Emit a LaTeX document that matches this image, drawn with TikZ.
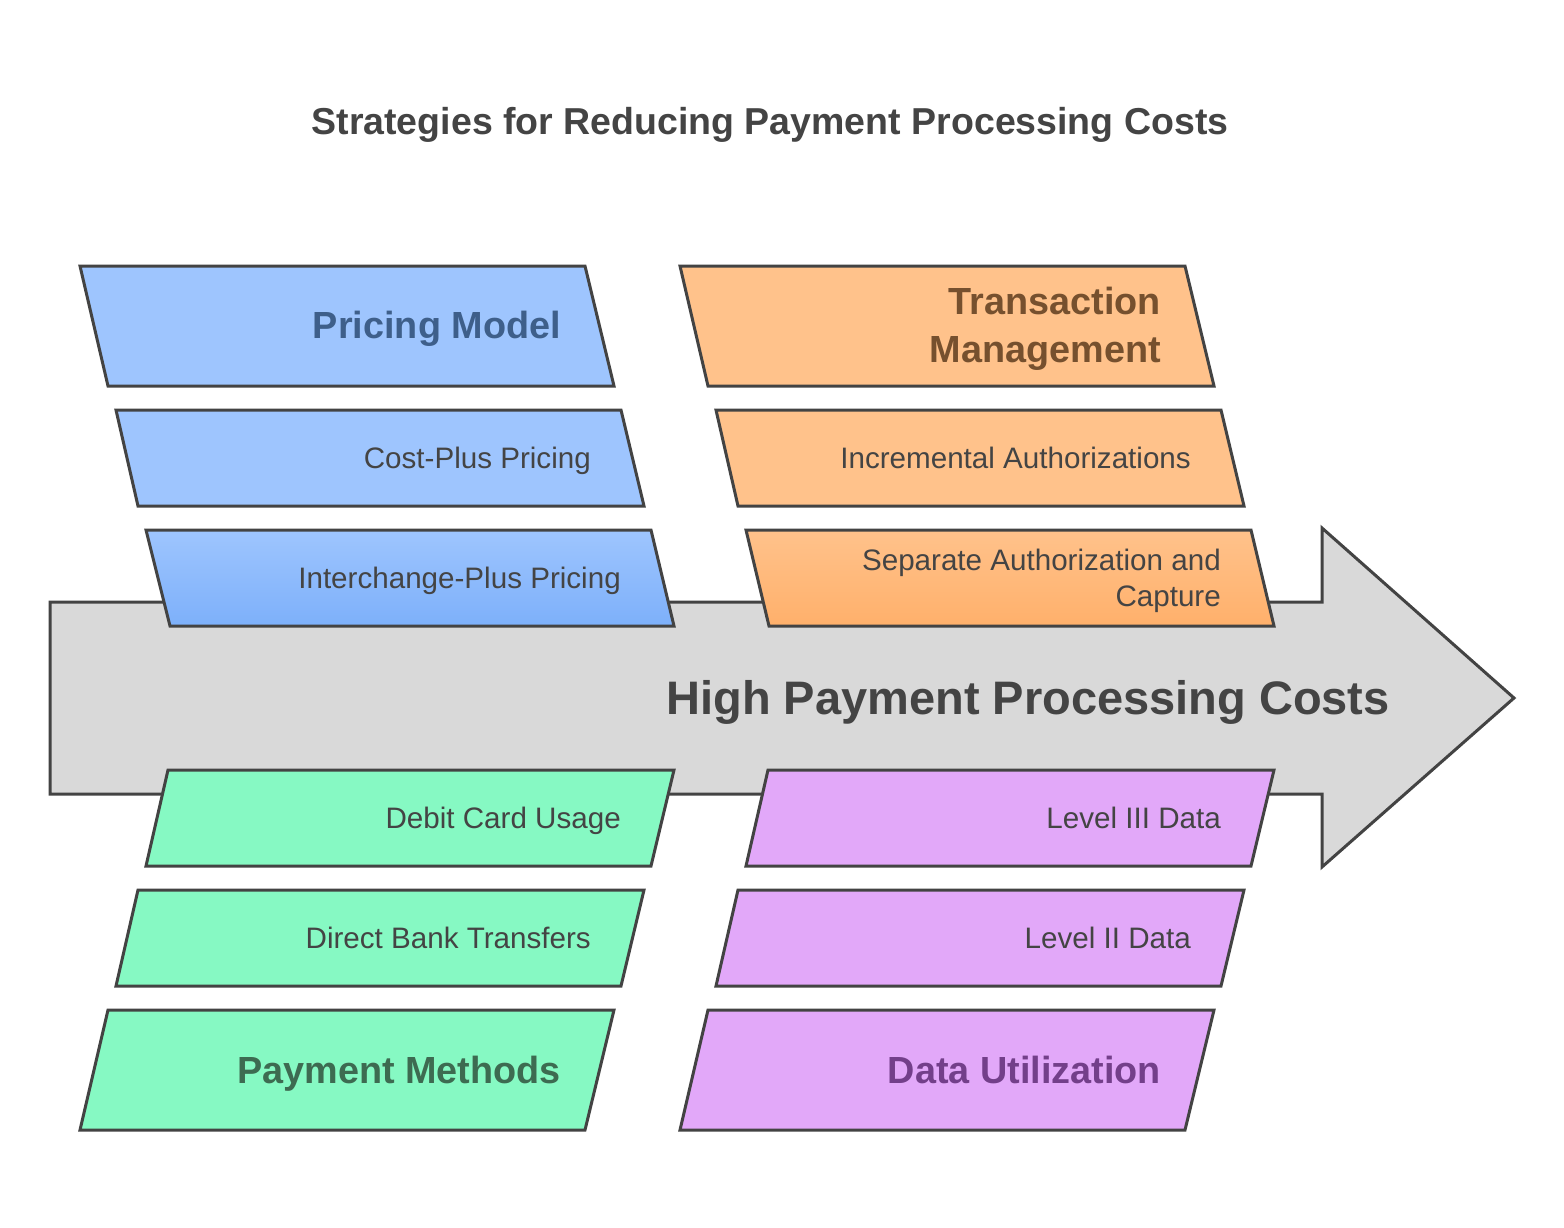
\documentclass[tikz,border=0pt]{standalone}
\usepackage{fontspec}
\setmainfont{Liberation Sans}
\definecolor{pricefill}{HTML}{9EC5FE}
\definecolor{pricedark}{HTML}{7DB0FA}
\definecolor{pricetext}{HTML}{3E5F8A}
\definecolor{transfill}{HTML}{FFC28B}
\definecolor{transdark}{HTML}{FFB06B}
\definecolor{transtext}{HTML}{76502E}
\definecolor{payfill}{HTML}{86F9C3}
\definecolor{paytext}{HTML}{3D6B51}
\definecolor{datafill}{HTML}{E2A8F9}
\definecolor{datatext}{HTML}{733F8A}
\definecolor{arrowfill}{HTML}{D9D9D9}
\definecolor{linegray}{HTML}{434343}
\definecolor{textgray}{HTML}{444444}
\begin{document}
\begin{tikzpicture}[x=1pt,y=-1pt,
    box/.style ={draw=linegray, line width=3pt},
    head/.style ={anchor=east, inner sep=0pt, text height=27pt, text depth=0pt,
                  font=\fontsize{37.8}{48}\selectfont\bfseries},
    item/.style ={anchor=east, inner sep=0pt, text height=21.2pt, text depth=0pt,
                  text=textgray, font=\fontsize{29.6}{36}\selectfont}]
   \fill[white] (0,0) rectangle (1564,1228);
   \useasboundingbox (0,0) rectangle (1564,1228);
   \node[font=\fontsize{37.5}{45}\selectfont\bfseries, text=textgray, inner sep=0pt, text height=26.8pt, text depth=0pt] (title) at (770,121) {Strategies for Reducing Payment Processing Costs};
   % main arrow
   \draw[box, fill=arrowfill] (50,602) -- (1322,602) -- (1322,528) -- (1514,698) -- (1322,867) -- (1322,794) -- (50,794) -- cycle;
   \node[font=\fontsize{47}{56}\selectfont\bfseries, text=textgray, anchor=east, inner sep=0pt, text height=33.6pt, text depth=0pt] (effect) at (1390,698) {High Payment Processing Costs};
   % pricing model
   \draw[box, fill=pricefill] (80,266) -- (585,266) -- (614,386) -- (108,386) -- cycle;
   \draw[box, fill=pricefill] (116,410) -- (621,410) -- (644,506) -- (138,506) -- cycle;
   \draw[box, top color=pricefill, bottom color=pricedark] (146,530) -- (651,530) -- (674,626) -- (170,626) -- cycle;
   \node[head, text=pricetext] (pricing) at (561,325) {Pricing Model};
   \node[item] (costplus) at (591,458) {Cost-Plus Pricing};
   \node[item] (interchange) at (621,578) {Interchange-Plus Pricing};
   % transaction management
   \draw[box, fill=transfill] (680,266) -- (1185,266) -- (1214,386) -- (708,386) -- cycle;
   \draw[box, fill=transfill] (716,410) -- (1221,410) -- (1244,506) -- (738,506) -- cycle;
   \draw[box, top color=transfill, bottom color=transdark] (746,530) -- (1251,530) -- (1274,626) -- (769,626) -- cycle;
   \node[anchor=north east, inner sep=0pt, align=right, text=transtext, font=\fontsize{37.8}{48}\selectfont\bfseries] (transaction) at (1161,287) {Transaction\\Management};
   \node[item] (incremental) at (1191,458) {Incremental Authorizations};
   \node[anchor=north east, inner sep=0pt, align=right, text=textgray, font=\fontsize{29.6}{36}\selectfont] (separate) at (1221,549) {Separate Authorization and\\Capture};
   % payment methods
   \draw[box, fill=payfill] (168,770) -- (674,770) -- (651,866) -- (146,866) -- cycle;
   \draw[box, fill=payfill] (138,890) -- (644,890) -- (621,986) -- (116,986) -- cycle;
   \draw[box, fill=payfill] (108,1010) -- (614,1010) -- (585,1130) -- (80,1130) -- cycle;
   \node[item] (debit) at (621,818) {Debit Card Usage};
   \node[item] (transfers) at (591,938) {Direct Bank Transfers};
   \node[head, text=paytext] (payment) at (561,1070) {Payment Methods};
   % data utilization
   \draw[box, fill=datafill] (768,770) -- (1274,770) -- (1251,866) -- (746,866) -- cycle;
   \draw[box, fill=datafill] (738,890) -- (1244,890) -- (1221,986) -- (716,986) -- cycle;
   \draw[box, fill=datafill] (708,1010) -- (1214,1010) -- (1185,1130) -- (680,1130) -- cycle;
   \node[item] (level3) at (1221,818) {Level III Data};
   \node[item] (level2) at (1191,938) {Level II Data};
   \node[head, text=datatext] (datause) at (1161,1070) {Data Utilization};
\end{tikzpicture}
\end{document}
